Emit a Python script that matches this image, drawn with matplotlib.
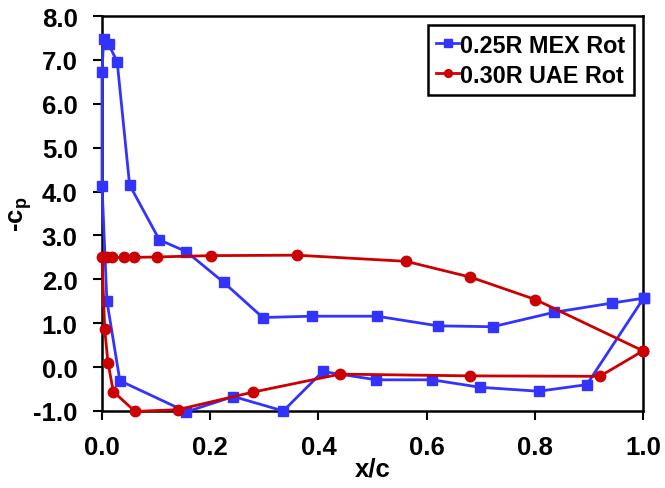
import matplotlib
matplotlib.use("Agg")
import matplotlib.pyplot as plt

plt.rcParams["font.family"] = ["Liberation Sans", "DejaVu Sans"]
plt.rcParams["font.weight"] = "bold"
plt.rcParams["mathtext.fontset"] = "custom"
plt.rcParams["mathtext.bf"] = "Liberation Sans:bold"

# 0.25R MEX Rot, lower surface TE -> LE, then upper surface LE -> TE
mex_x = [1.001, 0.896, 0.807, 0.699, 0.610, 0.507, 0.408, 0.335, 0.243,
         0.156, 0.033, 0.009, 0.0, 0.0, 0.003, 0.012, 0.028, 0.051, 0.106,
         0.156, 0.225, 0.297, 0.388, 0.508, 0.621, 0.722, 0.836, 0.943, 1.001]
mex_cp = [1.57, -0.40, -0.55, -0.46, -0.29, -0.29, -0.10, -1.00, -0.67,
          -1.02, -0.31, 1.51, 4.13, 6.72, 7.47, 7.36, 6.96, 4.15, 2.90,
          2.63, 1.93, 1.13, 1.16, 1.16, 0.94, 0.92, 1.25, 1.46, 1.57]

# 0.30R UAE Rot
uae_x = [1.0, 0.920, 0.681, 0.440, 0.279, 0.140, 0.061, 0.021, 0.011,
         0.005, 0.0, 0.009, 0.018, 0.040, 0.060, 0.102, 0.201, 0.360,
         0.562, 0.681, 0.801, 1.0]
uae_cp = [0.37, -0.21, -0.20, -0.16, -0.57, -0.97, -1.01, -0.56, 0.10,
          0.86, 2.50, 2.50, 2.50, 2.50, 2.50, 2.51, 2.54, 2.55,
          2.41, 2.05, 1.54, 0.37]

x_ticks = [0.0, 0.2, 0.4, 0.6, 0.8, 1.0]
y_ticks = [-1.0, 0.0, 1.0, 2.0, 3.0, 4.0, 5.0, 6.0, 7.0, 8.0]

fig = plt.figure(figsize=(6.65, 4.89), dpi=100)
ax = fig.add_axes([0.1534, 0.1575, 0.8136, 0.8077])

ax.plot(mex_x, mex_cp, color="#3333ff", marker="s", markersize=7.5,
        linewidth=2.0, label="0.25R MEX Rot", clip_on=False, zorder=3)
ax.plot(uae_x, uae_cp, color="#cc0000", marker="o", markersize=7.5,
        linewidth=2.0, label="0.30R UAE Rot", clip_on=False, zorder=4)

ax.set_xlim(0, 1.0)
ax.set_ylim(-1.0, 8.0)
ax.set_xticks(x_ticks)
ax.set_yticks(y_ticks)
ax.set_xticklabels([f"{v:.1f}" for v in x_ticks])
ax.set_yticklabels([f"{v:.1f}" for v in y_ticks])
ax.tick_params(direction="out", length=6.5, width=1.5, labelsize=18.5)
ax.tick_params(axis="x", pad=11)
ax.tick_params(axis="y", pad=11)

for side in ["left", "bottom", "right", "top"]:
    ax.spines[side].set_linewidth(1.8)

ax.set_xlabel("x/c", fontsize=18.5, fontweight="bold")
ax.xaxis.set_label_coords(0.5, -0.115)
ax.set_ylabel(r"-c$_\mathbf{p}$", fontsize=18.5, fontweight="bold")
ax.yaxis.set_label_coords(-0.125, 0.5)

leg = ax.legend(loc="upper right", fontsize=16.8, frameon=True, fancybox=False,
                edgecolor="black", handlelength=1.0, handletextpad=0.05,
                borderaxespad=0.4, borderpad=0.35, markerscale=0.75,
                labelspacing=0.3, framealpha=1)
leg.get_frame().set_linewidth(1.8)

fig.savefig("out.png", dpi=100)
